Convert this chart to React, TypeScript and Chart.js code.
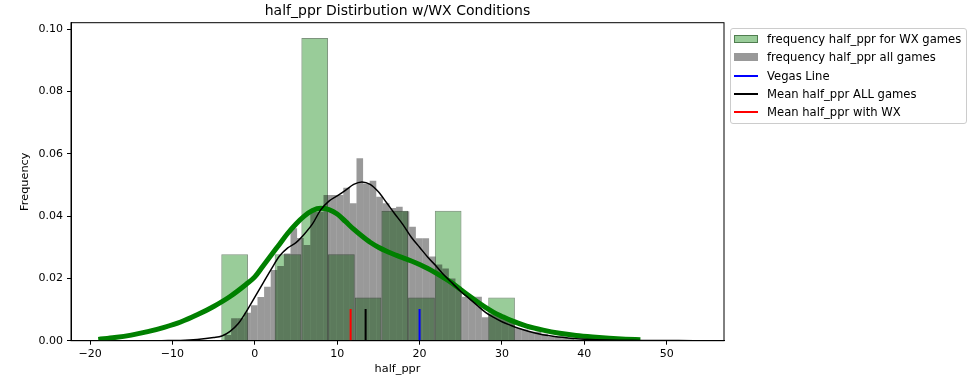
import React, { useEffect, useRef } from 'react';
import { Chart, registerables } from 'chart.js';

Chart.register(...registerables);

const FONT = "'DejaVu Sans', 'Noto Sans', sans-serif";

// axis ranges
const X_MIN = -22.31;
const X_MAX = 56.95;
const Y_MAX = 0.10212;
const X_TICK_STEP = 10;
const Y_TICK_STEP = 0.02;

// WX games histogram (density)
const greenBinLeft = [-4.07, -0.83, 2.41, 5.65, 8.89, 12.13, 15.37, 18.61, 21.85, 25.09, 28.33];
const GREEN_BIN_WIDTH = 3.24;
const greenFreq = [0.0278, 0, 0.0278, 0.0972, 0.0278, 0.0139, 0.0417, 0.0139, 0.0417, 0, 0.0139];

// all games histogram (density)
const grayBinLeft = [
  -3.678, -2.877, -2.076, -1.275, -0.474, 0.327, 1.128, 1.929, 2.730, 3.531,
  4.332, 5.133, 5.934, 6.735, 7.536, 8.337, 9.138, 9.939, 10.740, 11.541,
  12.342, 13.143, 13.944, 14.745, 15.546, 16.347, 17.148, 17.949, 18.750, 19.551,
  20.352, 21.153, 21.954, 22.755, 23.556, 24.357, 25.158, 25.959, 26.760, 27.561,
  28.362, 29.163, 29.964, 30.765, 31.566, 32.367, 33.168, 33.969, 34.770, 35.571,
  36.372, 37.173, 37.974,
];
const GRAY_BIN_WIDTH = 0.801;
const grayFreq = [
  0.0018, 0.0072, 0.0072, 0.0090, 0.0114, 0.0140, 0.0173, 0.0227, 0.0240, 0.0280,
  0.0361, 0.0330, 0.0307, 0.0414, 0.0414, 0.0468, 0.0468, 0.0468, 0.0491, 0.0441,
  0.0586, 0.0505, 0.0514, 0.0462, 0.0441, 0.0426, 0.0430, 0.0416, 0.0366, 0.0329,
  0.0329, 0.0270, 0.0245, 0.0232, 0.0200, 0.0173, 0.0141, 0.0141, 0.0141, 0.0075,
  0.0085, 0.0082, 0.0075, 0.0060, 0.0040, 0.0036, 0.0029, 0.0029, 0.0022, 0.0013,
  0.0013, 0.0013, 0.0008,
];

// KDE for WX games
const kdeWxX = [-19, -17, -15, -13, -11, -9, -7, -5, -3, -1, 0, 1, 2, 3, 4, 5, 6, 7, 8, 9, 10, 11, 12, 13, 14, 15, 16, 17, 18, 19, 20, 21, 22, 23, 24, 25, 26, 27, 28, 29, 30, 31, 33, 35, 37, 39, 41, 43, 45, 46.8];
const kdeWxY = [0.0004, 0.0010, 0.0018, 0.0029, 0.0043, 0.0060, 0.0083, 0.0110, 0.0142, 0.0182, 0.0205, 0.0240, 0.0275, 0.0310, 0.0345, 0.0375, 0.0400, 0.0418, 0.0425, 0.0421, 0.0407, 0.0383, 0.0358, 0.0336, 0.0316, 0.0300, 0.0287, 0.0276, 0.0266, 0.0256, 0.0245, 0.0232, 0.0217, 0.0201, 0.0184, 0.0164, 0.0144, 0.0125, 0.0107, 0.0091, 0.0078, 0.0066, 0.0047, 0.0034, 0.0024, 0.0017, 0.0012, 0.0008, 0.0005, 0.0003];

// KDE for all games
const kdeAllX = [-11.3, -9, -7, -5, -4, -3, -2, -1, 0, 1, 2, 3, 4, 5, 6, 7, 8, 9, 10, 11, 12, 13, 14, 15, 16, 17, 18, 19, 20, 21, 22, 23, 24, 25, 26, 27, 28, 29, 30, 31, 32, 34, 36, 38, 40, 43, 47, 53.3];
const kdeAllY = [0.0000, 0.0001, 0.0004, 0.0010, 0.0015, 0.0030, 0.0055, 0.0095, 0.0140, 0.0185, 0.0230, 0.0272, 0.0298, 0.0315, 0.0342, 0.0375, 0.0420, 0.0448, 0.0465, 0.0483, 0.0502, 0.0510, 0.0502, 0.0478, 0.0443, 0.0407, 0.0372, 0.0332, 0.0300, 0.0268, 0.0240, 0.0210, 0.0184, 0.0158, 0.0136, 0.0113, 0.0091, 0.0075, 0.0061, 0.0050, 0.0040, 0.0025, 0.0015, 0.0009, 0.0005, 0.0002, 0.0001, 0.0000];

// reference lines
const vegasLine = 20.0;
const meanAll = 13.45;
const meanWx = 11.63;
const MARK_TOP = 0.0102;

const GREEN_EDGE = 'rgba(20,60,20,0.55)';

const legendItems = [
  { label: 'frequency half_ppr for WX games', kind: 'patch', color: 'rgba(0,128,0,0.4)', edge: GREEN_EDGE },
  { label: 'frequency half_ppr all games', kind: 'patch', color: 'rgba(0,0,0,0.4)', edge: 'transparent' },
  { label: 'Vegas Line', kind: 'line', color: '#0000ff', edge: '' },
  { label: 'Mean half_ppr ALL games', kind: 'line', color: '#000000', edge: '' },
  { label: 'Mean half_ppr with WX', kind: 'line', color: '#ff0000', edge: '' },
];

const framePlugin = {
  id: 'frame',
  afterDatasetsDraw(chart: any) {
    const { ctx, chartArea } = chart;
    ctx.save();
    ctx.strokeStyle = '#000';
    ctx.lineWidth = 1;
    ctx.strokeRect(chartArea.left, chartArea.top, chartArea.right - chartArea.left, chartArea.bottom - chartArea.top);
    ctx.restore();
  },
};

const fmtX = (v: number) => (v < 0 ? '\u2212' + Math.abs(v) : String(v));

export default function App() {
  const ref = useRef<HTMLCanvasElement | null>(null);

  useEffect(() => {
    if (!ref.current) return;
    Chart.defaults.font.family = FONT;
    Chart.defaults.color = '#000';

    const greenData = greenBinLeft.map((l, i) => ({ x: l + GREEN_BIN_WIDTH / 2, y: greenFreq[i] }));
    const grayData = grayBinLeft.map((l, i) => ({ x: l + GRAY_BIN_WIDTH / 2, y: grayFreq[i] }));
    const kdeWx = kdeWxX.map((x, i) => ({ x, y: kdeWxY[i] }));
    const kdeAll = kdeAllX.map((x, i) => ({ x, y: kdeAllY[i] }));
    const vline = (x: number) => [{ x, y: 0 }, { x, y: MARK_TOP }];

    const lineCommon = { type: 'line' as const, pointRadius: 0, xAxisID: 'x', yAxisID: 'y', fill: false };

    const chart = new Chart(ref.current, {
      type: 'bar',
      data: {
        datasets: [
          {
            type: 'bar',
            label: 'frequency half_ppr for WX games',
            data: greenData as any,
            xAxisID: 'xg',
            yAxisID: 'y',
            backgroundColor: 'rgba(0,128,0,0.4)',
            borderColor: GREEN_EDGE,
            borderWidth: 1,
            inflateAmount: 0,
            barPercentage: 1,
            categoryPercentage: 1,
            grouped: false,
            order: 7,
          } as any,
          {
            type: 'bar',
            label: 'frequency half_ppr all games',
            data: grayData as any,
            xAxisID: 'x',
            yAxisID: 'y',
            backgroundColor: 'rgba(0,0,0,0.4)',
            borderWidth: 0,
            inflateAmount: 0,
            barPercentage: 1,
            categoryPercentage: 1,
            grouped: false,
            order: 6,
          } as any,
          {
            ...lineCommon,
            label: 'kde wx',
            data: kdeWx as any,
            borderColor: '#008000',
            borderWidth: 5,
            borderCapStyle: 'butt',
            cubicInterpolationMode: 'monotone',
            order: 5,
          } as any,
          {
            ...lineCommon,
            label: 'kde all',
            data: kdeAll as any,
            borderColor: '#000000',
            borderWidth: 1.5,
            cubicInterpolationMode: 'monotone',
            order: 4,
          } as any,
          { ...lineCommon, label: 'Mean half_ppr with WX', data: vline(meanWx) as any, borderColor: '#ff0000', borderWidth: 2, order: 3 } as any,
          { ...lineCommon, label: 'Mean half_ppr ALL games', data: vline(meanAll) as any, borderColor: '#000000', borderWidth: 2, order: 2 } as any,
          { ...lineCommon, label: 'Vegas Line', data: vline(vegasLine) as any, borderColor: '#0000ff', borderWidth: 2, order: 1 } as any,
        ],
      },
      options: {
        responsive: false,
        animation: false,
        events: [],
        layout: { padding: { left: 0, right: 256, top: 0, bottom: 16.3 } },
        plugins: {
          legend: { display: false },
          tooltip: { enabled: false },
          title: {
            display: true,
            text: 'half_ppr Distirbution w/WX Conditions',
            fullSize: false,
            color: '#000',
            font: { size: 14, weight: 'normal', family: FONT, lineHeight: 1.2 },
            padding: { top: 2.6, bottom: 3.3 },
          },
        },
        scales: {
          x: {
            type: 'linear',
            position: 'bottom',
            min: X_MIN,
            max: X_MAX,
            offset: false,
            grid: { display: true, drawOnChartArea: false, drawTicks: true, tickLength: 4, color: '#000', offset: false },
            border: { display: true, color: '#000', width: 1 },
            ticks: {
              stepSize: X_TICK_STEP,
              includeBounds: false,
              autoSkip: false,
              maxRotation: 0,
              padding: 3,
              color: '#000',
              font: { size: 11, family: FONT },
              callback: (v: any) => fmtX(Number(v)),
            },
            title: { display: true, text: 'half_ppr', color: '#000', font: { size: 11.3, family: FONT }, padding: 0 },
            afterFit: (s: any) => { s.height = 35; },
          },
          xg: {
            type: 'linear',
            display: false,
            min: X_MIN,
            max: X_MAX,
            offset: false,
            afterBuildTicks: (s: any) => { s.ticks = [{ value: 0 }]; },
          },
          y: {
            type: 'linear',
            position: 'left',
            min: 0,
            max: Y_MAX,
            grid: { display: true, drawOnChartArea: false, drawTicks: true, tickLength: 4, color: '#000' },
            border: { display: true, color: '#000', width: 1 },
            ticks: {
              stepSize: Y_TICK_STEP,
              includeBounds: false,
              padding: 4,
              color: '#000',
              font: { size: 11, family: FONT },
              callback: (v: any) => Number(v).toFixed(2),
            },
            title: { display: true, text: 'Frequency', color: '#000', font: { size: 11.3, family: FONT }, padding: { top: 18.5, bottom: 0 } },
            afterFit: (s: any) => { s.width = 71; },
          },
        },
      } as any,
      plugins: [framePlugin],
    });

    return () => chart.destroy();
  }, []);

  return (
    <div style={{ position: 'fixed', left: 0, top: 0, width: 980, height: 392, background: '#fff', overflow: 'hidden' }}>
      <canvas ref={ref} width={980} height={392} style={{ position: 'absolute', left: 0, top: 0, width: 980, height: 392 }} />
      <div
        style={{
          position: 'absolute',
          left: 730,
          top: 28,
          width: 237,
          height: 96,
          border: '1px solid #cccccc',
          borderRadius: 3,
          background: 'rgba(255,255,255,0.8)',
          boxSizing: 'border-box',
          paddingTop: 1,
          fontFamily: FONT,
          fontSize: 11.6,
          color: '#000',
        }}
      >
        {legendItems.map((it) => (
          <div key={it.label} style={{ display: 'flex', alignItems: 'center', height: 18.3, whiteSpace: 'nowrap' }}>
            <div style={{ width: 3 }} />
            {it.kind === 'patch' ? (
              <div style={{ width: 24, height: 8, background: it.color, border: `1px solid ${it.edge}`, boxSizing: 'border-box' }} />
            ) : (
              <div style={{ width: 24, height: 2, background: it.color }} />
            )}
            <div style={{ width: 9 }} />
            <span>{it.label}</span>
          </div>
        ))}
      </div>
    </div>
  );
}
